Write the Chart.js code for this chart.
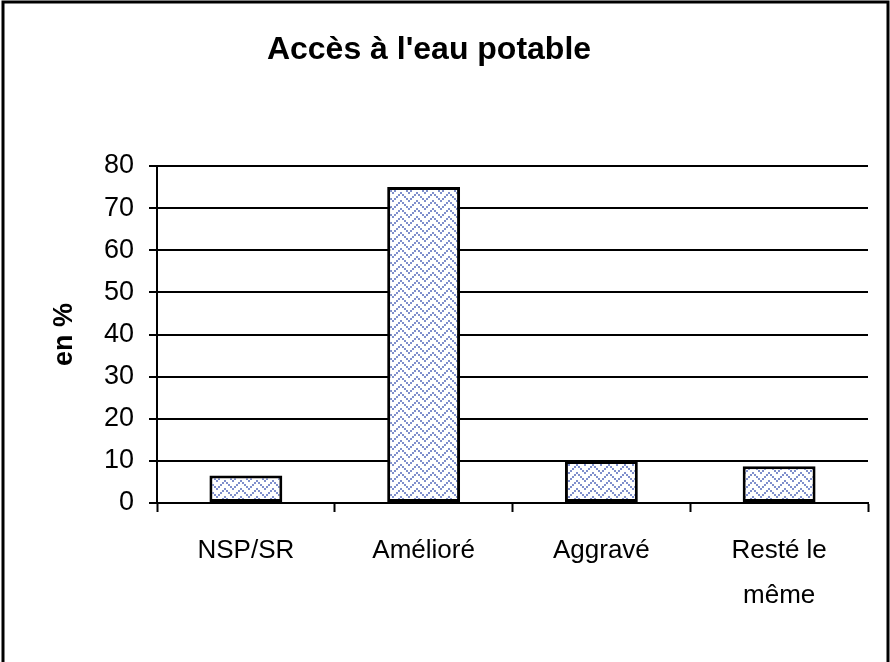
<!DOCTYPE html>
<html>
<head>
<meta charset="utf-8">
<title>Accès à l'eau potable</title>
<script src="https://cdn.jsdelivr.net/npm/chart.js@4"></script>
<style>
  html, body { margin: 0; padding: 0; background: #fff; }
  #wrap { width: 890px; height: 662px; position: relative; }
</style>
</head>
<body>
<div id="wrap"><canvas id="myChart"></canvas></div>
<script>
const chartTitle = "Accès à l'eau potable";
const axisTitle = "en %";
const categories = ["NSP/SR", "Amélioré", "Aggravé", ["Resté le", "même"]];
const values = [6.5, 75, 10, 8.7];
const yMin = 0, yMax = 80, yStep = 10;

const FONT = "'Liberation Sans', Arial, sans-serif";

// little blue dotted zigzag, like the old Excel fill
function makePattern() {
  const tile = document.createElement("canvas");
  tile.width = 16;
  tile.height = 16;
  const t = tile.getContext("2d");
  t.fillStyle = "#fff";
  t.fillRect(0, 0, 16, 16);
  t.fillStyle = "#7f8fcc";
  for (let k = 0; k < 8; k++) {
    const x = 2 * k;
    const y = k < 4 ? 2 * k : 2 * (8 - k);
    t.fillRect(x, y % 16, 2, 2);
    t.fillRect(x, (y + 8) % 16, 2, 2);
  }
  return document.getElementById("myChart").getContext("2d").createPattern(tile, "repeat");
}

const frameAndTitle = {
  id: "frameAndTitle",
  beforeDraw(chart) {
    const ctx = chart.ctx;
    ctx.save();
    ctx.fillStyle = "#fff";
    ctx.fillRect(0, 0, chart.width, chart.height);
    ctx.strokeStyle = "#000";
    ctx.lineWidth = 3;
    ctx.beginPath();
    ctx.moveTo(3, chart.height);
    ctx.lineTo(3, 2);
    ctx.lineTo(chart.width - 2, 2);
    ctx.lineTo(chart.width - 2, chart.height);
    ctx.stroke();
    ctx.restore();
  },
  afterDraw(chart) {
    const ctx = chart.ctx;
    ctx.save();
    ctx.fillStyle = "#000";
    ctx.font = "bold 32px " + FONT;
    ctx.textAlign = "center";
    ctx.textBaseline = "middle";
    ctx.fillText(chartTitle, 429, 50);
    ctx.restore();
  }
};

const data = {
  labels: categories,
  datasets: [{
    data: values,
    backgroundColor: makePattern(),
    borderColor: "#000",
    borderWidth: 3,
    borderSkipped: false,
    categoryPercentage: 1,
    barPercentage: 0.41
  }]
};

const config = {
  type: "bar",
  data: data,
  plugins: [frameAndTitle],
  options: {
    responsive: true,
    maintainAspectRatio: false,
    animation: false,
    events: [],
    layout: {
      padding: { top: 166, right: 22, left: 0, bottom: 0 }
    },
    scales: {
      y: {
        min: yMin,
        max: yMax,
        afterFit(scale) { scale.width = 157; },
        ticks: {
          stepSize: yStep,
          color: "#000",
          padding: 15,
          font: { family: FONT, size: 27 }
        },
        grid: {
          color: "#000",
          lineWidth: 2,
          tickLength: 8,
          tickColor: "#000"
        },
        border: { color: "#000", width: 2 },
        title: {
          display: true,
          text: axisTitle,
          color: "#000",
          padding: { top: 48, bottom: 0 },
          font: { family: FONT, size: 27, weight: "bold" }
        }
      },
      x: {
        afterFit(scale) { scale.height = 159; },
        ticks: {
          color: "#000",
          padding: 16,
          maxRotation: 0,
          font: { family: FONT, size: 26, lineHeight: 1.73 }
        },
        grid: {
          drawOnChartArea: false,
          offset: true,
          tickLength: 9,
          tickColor: "#000",
          tickWidth: 2
        },
        border: { color: "#000", width: 2 }
      }
    },
    plugins: {
      legend: { display: false },
      tooltip: { enabled: false }
    }
  }
};

const myChart = new Chart(document.getElementById("myChart"), config);
</script>
</body>
</html>
